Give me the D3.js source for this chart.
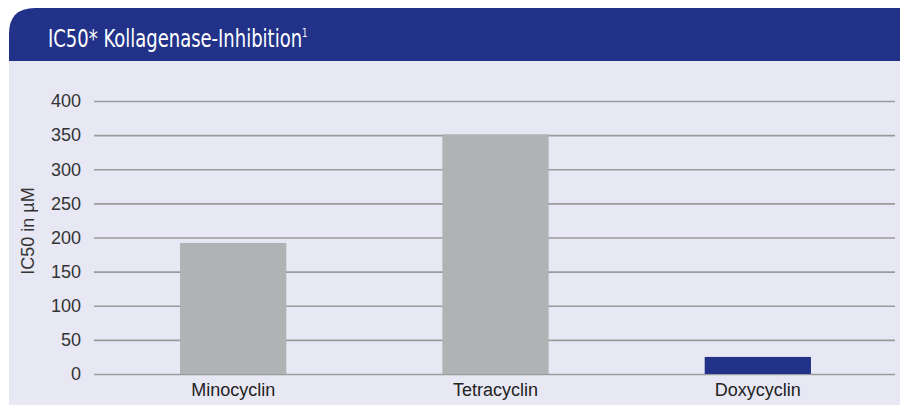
<!DOCTYPE html>
<html>
<head>
<meta charset="utf-8">
<title>IC50 Kollagenase-Inhibition</title>
<style>
  body { margin: 0; background: #fff; }
  svg { display: block; }
</style>
</head>
<body>
<script src="https://cdn.jsdelivr.net/npm/d3@7"></script>
<script>
// data
var drugs  = ["Minocyclin", "Tetracyclin", "Doxycyclin"];
var ic50   = [192, 351, 25];
var colors = ["#b1b2b4", "#b1b2b4", "#223288"];
var yTicks = [0, 50, 100, 150, 200, 250, 300, 350, 400];

var W = 900, H = 405;

var svg = d3.select("body").append("svg")
    .attr("width", W)
    .attr("height", H);

// panel background
svg.append("rect")
    .attr("x", 9).attr("y", 61)
    .attr("width", W - 9).attr("height", H - 61)
    .style("fill", "#e8e8f4");

// header band with rounded top-left corner
var r = 26, hx = 9, hy = 8, hb = 61;
svg.append("path")
    .attr("d", "M" + hx + "," + hb +
               " L" + hx + "," + (hy + r) +
               " Q" + hx + "," + hy + " " + (hx + r) + "," + hy +
               " L" + W + "," + hy +
               " L" + W + "," + hb + " Z")
    .style("fill", "#223288");

// condensed title: squeeze horizontally
var title = svg.append("text")
    .attr("transform", "translate(48,47) scale(0.8,1)")
    .style("font-family", "'DejaVu Sans Condensed', 'DejaVu Sans', sans-serif")
    .style("font-size", "25px")
    .style("fill", "#ffffff");
title.append("tspan").text("IC50* Kollagenase-Inhibition");
title.append("tspan")
    .attr("dy", -10)
    .style("font-size", "12px")
    .text("1");

// scales
var y = d3.scaleLinear().domain([0, 400]).range([374, 101]);
var x = d3.scaleBand().domain(drugs).range([102, 889]).paddingInner(0.595).paddingOuter(0.2975);

// grid + tick labels
var axis = svg.append("g")
    .attr("transform", "translate(94,0)")
    .call(d3.axisLeft(y).tickValues(yTicks).tickSize(-801).tickPadding(13));
axis.select(".domain").remove();
axis.selectAll(".tick line")
    .style("stroke", "#9a9a9c")
    .style("stroke-width", "1.6px");
axis.selectAll(".tick text")
    .style("font-family", "'Liberation Sans', Arial, sans-serif")
    .style("font-size", "18px")
    .style("fill", "#333");

// bars
svg.selectAll("rect.bar")
    .data(drugs)
    .enter().append("rect")
    .attr("class", "bar")
    .attr("x", function(d) { return x(d); })
    .attr("width", x.bandwidth())
    .attr("y", function(d, i) { return y(ic50[i]); })
    .attr("height", function(d, i) { return y(0) - y(ic50[i]); })
    .style("fill", function(d, i) { return colors[i]; });

// x labels
var xAxis = svg.append("g")
    .attr("transform", "translate(0,374)")
    .call(d3.axisBottom(x).tickSize(0).tickPadding(9));
xAxis.select(".domain").remove();
xAxis.selectAll(".tick text")
    .style("font-family", "'Liberation Sans', Arial, sans-serif")
    .style("font-size", "18px")
    .style("fill", "#222");

// y axis title
svg.append("text")
    .attr("transform", "translate(34,231) rotate(-90)")
    .style("text-anchor", "middle")
    .style("font-family", "'Liberation Sans', Arial, sans-serif")
    .style("font-size", "18px")
    .style("fill", "#333")
    .text("IC50 in µM");
</script>
</body>
</html>
